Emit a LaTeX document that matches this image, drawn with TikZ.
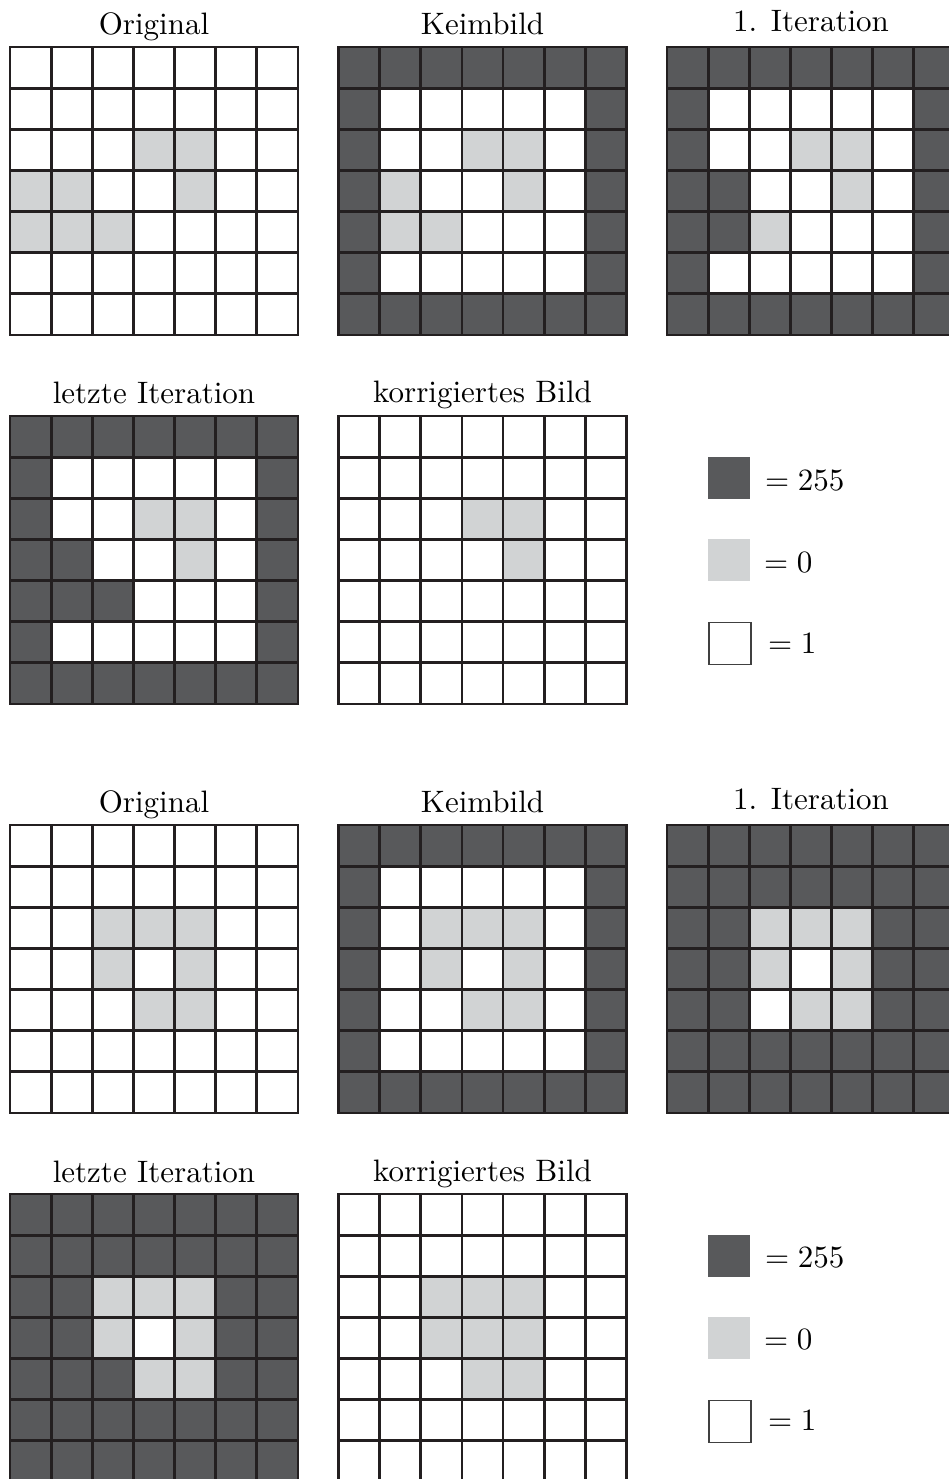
\documentclass[tikz,border=0pt]{standalone}
\usepackage{graphicx}
\definecolor{cellD}{RGB}{88,89,91}
\definecolor{cellL}{RGB}{209,211,212}
\definecolor{cellW}{RGB}{255,255,255}
\definecolor{cline}{RGB}{35,31,32}
\def\cellsz{41.14}
\newcommand\bigtxt[1]{\scalebox{3.1}{\fontsize{10}{12}\selectfont #1}}
\newcommand\drawgrid[4]{%
  \begin{scope}[shift={(#2,#3)}]
    \foreach \rowlist [count=\ri from 0] in {#4} {
      \foreach \cv [count=\ci from 0] in \rowlist {
        \fill[cell\cv] ({\ci*\cellsz},{\ri*\cellsz}) rectangle ++(\cellsz,\cellsz);
      }
    }
    \foreach \i in {1,...,6} {
      \draw[gridline] ({\i*\cellsz},0) -- ({\i*\cellsz},{7*\cellsz});
      \draw[gridline] (0,{\i*\cellsz}) -- ({7*\cellsz},{\i*\cellsz});
    }
    \draw[gridline] (0,0) rectangle ({7*\cellsz},{7*\cellsz});
    \coordinate (#1) at ({3.5*\cellsz},0);
  \end{scope}}
\begin{document}
\begin{tikzpicture}[x=1pt,y=-1pt,
  gridline/.style={draw=cline,line width=2.8pt},
  title/.style={anchor=base,inner sep=0pt},
  legtext/.style={anchor=base west,inner sep=0pt},
  legbox/.style={minimum size=42pt,inner sep=0pt,anchor=north west}]
\useasboundingbox[fill=white] (0,0) rectangle (949,1479);
% ---------- Set A ----------
\drawgrid{gA1}{10}{47}{{W,W,W,W,W,W,W},{W,W,W,W,W,W,W},{W,W,W,L,L,W,W},{L,L,W,W,L,W,W},{L,L,L,W,W,W,W},{W,W,W,W,W,W,W},{W,W,W,W,W,W,W}}
\drawgrid{gA2}{338.5}{47}{{D,D,D,D,D,D,D},{D,W,W,W,W,W,D},{D,W,W,L,L,W,D},{D,L,W,W,L,W,D},{D,L,L,W,W,W,D},{D,W,W,W,W,W,D},{D,D,D,D,D,D,D}}
\drawgrid{gA3}{667}{47}{{D,D,D,D,D,D,D},{D,W,W,W,W,W,D},{D,W,W,L,L,W,D},{D,D,W,W,L,W,D},{D,D,L,W,W,W,D},{D,W,W,W,W,W,D},{D,D,D,D,D,D,D}}
\drawgrid{gA4}{10}{416}{{D,D,D,D,D,D,D},{D,W,W,W,W,W,D},{D,W,W,L,L,W,D},{D,D,W,W,L,W,D},{D,D,D,W,W,W,D},{D,W,W,W,W,W,D},{D,D,D,D,D,D,D}}
\drawgrid{gA5}{338.5}{416}{{W,W,W,W,W,W,W},{W,W,W,W,W,W,W},{W,W,W,L,L,W,W},{W,W,W,W,L,W,W},{W,W,W,W,W,W,W},{W,W,W,W,W,W,W},{W,W,W,W,W,W,W}}
\node[title] (tA1) at ([yshift=12.5pt]gA1) {\bigtxt{Original}};
\node[title] (tA2) at ([yshift=12.5pt]gA2) {\bigtxt{Keimbild}};
\node[title] (tA3) at ([yshift=15.5pt]gA3) {\bigtxt{1. Iteration}};
\node[title] (tA4) at ([yshift=13pt]gA4) {\bigtxt{letzte Iteration}};
\node[title] (tA5) at ([yshift=14pt]gA5) {\bigtxt{korrigiertes Bild}};
\node[legbox,fill=cellD] (lA1) at (708,457) {};
\node[legbox,fill=cellL] (lA2) at (708,539) {};
\node[legbox,fill=white,draw=black!75,line width=1.5pt] (lA3) at (708,621.5) {};
\node[legtext] (xA1) at (765,490) {\bigtxt{$=255$}};
\node[legtext] (xA2) at (764,572) {\bigtxt{$=0$}};
\node[legtext] (xA3) at (768,653) {\bigtxt{$=1$}};
% ---------- Set B ----------
\drawgrid{gB1}{10}{825}{{W,W,W,W,W,W,W},{W,W,W,W,W,W,W},{W,W,L,L,L,W,W},{W,W,L,W,L,W,W},{W,W,W,L,L,W,W},{W,W,W,W,W,W,W},{W,W,W,W,W,W,W}}
\drawgrid{gB2}{338.5}{825}{{D,D,D,D,D,D,D},{D,W,W,W,W,W,D},{D,W,L,L,L,W,D},{D,W,L,W,L,W,D},{D,W,W,L,L,W,D},{D,W,W,W,W,W,D},{D,D,D,D,D,D,D}}
\drawgrid{gB3}{667}{825}{{D,D,D,D,D,D,D},{D,D,D,D,D,D,D},{D,D,L,L,L,D,D},{D,D,L,W,L,D,D},{D,D,W,L,L,D,D},{D,D,D,D,D,D,D},{D,D,D,D,D,D,D}}
\drawgrid{gB4}{10}{1194}{{D,D,D,D,D,D,D},{D,D,D,D,D,D,D},{D,D,L,L,L,D,D},{D,D,L,W,L,D,D},{D,D,D,L,L,D,D},{D,D,D,D,D,D,D},{D,D,D,D,D,D,D}}
\drawgrid{gB5}{338.5}{1194}{{W,W,W,W,W,W,W},{W,W,W,W,W,W,W},{W,W,L,L,L,W,W},{W,W,L,L,L,W,W},{W,W,W,L,L,W,W},{W,W,W,W,W,W,W},{W,W,W,W,W,W,W}}
\node[title] (tB1) at ([yshift=12.5pt]gB1) {\bigtxt{Original}};
\node[title] (tB2) at ([yshift=12.5pt]gB2) {\bigtxt{Keimbild}};
\node[title] (tB3) at ([yshift=15.5pt]gB3) {\bigtxt{1. Iteration}};
\node[title] (tB4) at ([yshift=11.5pt]gB4) {\bigtxt{letzte Iteration}};
\node[title] (tB5) at ([yshift=12.5pt]gB5) {\bigtxt{korrigiertes Bild}};
\node[legbox,fill=cellD] (lB1) at (708,1235) {};
\node[legbox,fill=cellL] (lB2) at (708,1317) {};
\node[legbox,fill=white,draw=black!75,line width=1.5pt] (lB3) at (708,1399.5) {};
\node[legtext] (xB1) at (765,1267) {\bigtxt{$=255$}};
\node[legtext] (xB2) at (764,1349) {\bigtxt{$=0$}};
\node[legtext] (xB3) at (768,1430) {\bigtxt{$=1$}};
\end{tikzpicture}
\end{document}
